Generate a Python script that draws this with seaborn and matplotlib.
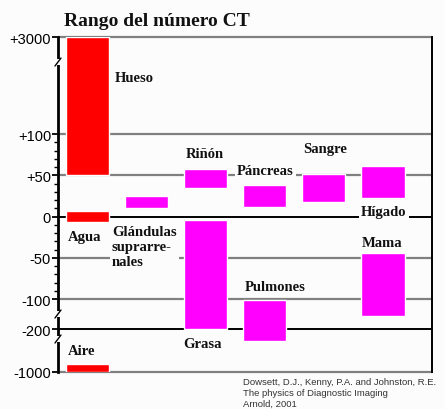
import numpy as np
import matplotlib
matplotlib.use("Agg")
import matplotlib.pyplot as plt
import seaborn as sns

sns.set_theme(style="white")
plt.rcParams["font.family"] = ["Liberation Sans", "DejaVu Sans"]

# rangos de numero CT (unidades Hounsfield)
tejidos = ["Hueso", "Agua", "Aire", "Glándulas suprarrenales", "Riñón", "Grasa",
           "Páncreas", "Pulmones", "Sangre", "Hígado", "Mama"]
columna = [0, 0, 0, 1, 2, 2, 3, 3, 4, 5, 5]
hu_min = [50, -7, -1000, 10, 35, -200, 11, -420, 18, 23, -157]
hu_max = [3000, 7, -850, 25, 57, -4, 38, -103, 51, 61, -44]
colores = ["#ff0000", "#ff0000", "#ff0000", "#ff00ff", "#ff00ff", "#ff00ff",
           "#ff00ff", "#ff00ff", "#ff00ff", "#ff00ff", "#ff00ff"]

tick_vals = [-1000, -200, -100, -50, 0, 50, 100, 3000]
tick_labels = ["-1000", "-200", "-100", "-50", "0", "+50", "+100", "+3000"]

# eje vertical por tramos (con cortes)
knots_hu = [-1000, -200, -100, 100, 3000]
knots_px = [0, 43, 73, 238, 335]

def fwd(v):
    return np.interp(v, knots_hu, knots_px)

def inv(p):
    return np.interp(p, knots_px, knots_hu)

W, H = 445, 410
BG = "#fcfcfc"
fig = plt.figure(figsize=(W / 100, H / 100), dpi=100, facecolor=BG)
ax = fig.add_axes([58 / W, 1 - 373 / H, 374 / W, 335 / H])
ax.set_facecolor(BG)
ax.set_yscale("function", functions=(fwd, inv))
ax.set_ylim(-1000, 3000)
ax.set_xlim(-0.5, 5.83)

for v in [3000, 100, 50, -50, -100, -1000]:
    ax.axhline(v, color="#808080", lw=1.6, zorder=1, clip_on=False)
for v in [0, -200]:
    ax.axhline(v, color="black", lw=1.4, zorder=1)

ax.bar(columna, np.subtract(hu_max, hu_min), bottom=hu_min, width=0.73,
       color=colores, zorder=2)

ax.set_xticks([])
ax.set_yticks(tick_vals, tick_labels)
minor = [v for v in range(-90, 100, 10) if v % 50 != 0]
ax.set_yticks(minor, minor=True)
ax.tick_params(axis="y", which="major", direction="out", length=4, width=1.3,
               pad=1, labelsize=10.5, left=True, color="black", labelcolor="black")
ax.tick_params(axis="y", which="minor", direction="out", length=3, width=1,
               left=True, color="black")

ax.spines["top"].set_visible(False)
ax.spines["bottom"].set_visible(False)
ax.spines["left"].set_color("black")
ax.spines["left"].set_linewidth(2)
ax.spines["right"].set_color("black")
ax.spines["right"].set_linewidth(1.4)

# marcas de corte en el eje
for ypx in [63, 315, 340]:
    f = (373 - ypx) / 335
    ax.plot([0, 0], [f - 3 / 335, f + 3 / 335], transform=ax.transAxes,
            color=BG, lw=3, clip_on=False, zorder=5, solid_capstyle="butt")
    ax.plot([-3 / 374, 3 / 374], [f - 4 / 335, f + 4 / 335], transform=ax.transAxes,
            color="black", lw=1, clip_on=False, zorder=6)

def px(x, y):
    return x / W, 1 - y / H

serif = ["Liberation Serif", "DejaVu Serif"]
lbl = dict(fontfamily=serif, fontweight="bold", fontsize=10.5, color="#111111",
           ha="left", va="center")
box = dict(facecolor=BG, edgecolor="none", pad=1.5)

fig.text(*px(64, 22), "Rango del número CT", fontfamily=serif, fontweight="bold",
         fontsize=14, color="#111111", ha="left", va="center")

fig.text(*px(115, 79), "Hueso", **lbl)
fig.text(*px(68, 238), "Agua", **lbl)
fig.text(*px(112, 248), "Glándulas\nsuprarre-\nnales", linespacing=1.2, bbox=box, **lbl)
fig.text(*px(186, 155), "Riñón", **lbl)
fig.text(*px(237, 172), "Páncreas", bbox=box, **lbl)
fig.text(*px(303, 150), "Sangre", **lbl)
fig.text(*px(361, 213), "Hígado", bbox=box, **lbl)
fig.text(*px(362, 244), "Mama", **lbl)
fig.text(*px(245, 288), "Pulmones", **lbl)
fig.text(*px(183, 345), "Grasa", **lbl)
fig.text(*px(68, 352), "Aire", **lbl)

cita = ["Dowsett, D.J., Kenny, P.A. and Johnston, R.E.",
        "The physics of Diagnostic Imaging",
        "Arnold, 2001"]
for i, linea in enumerate(cita):
    fig.text(*px(243, 383 + 10.5 * i), linea, fontsize=6.8, color="#333333",
             ha="left", va="center")

fig.savefig("out.png", dpi=100, facecolor=BG)
